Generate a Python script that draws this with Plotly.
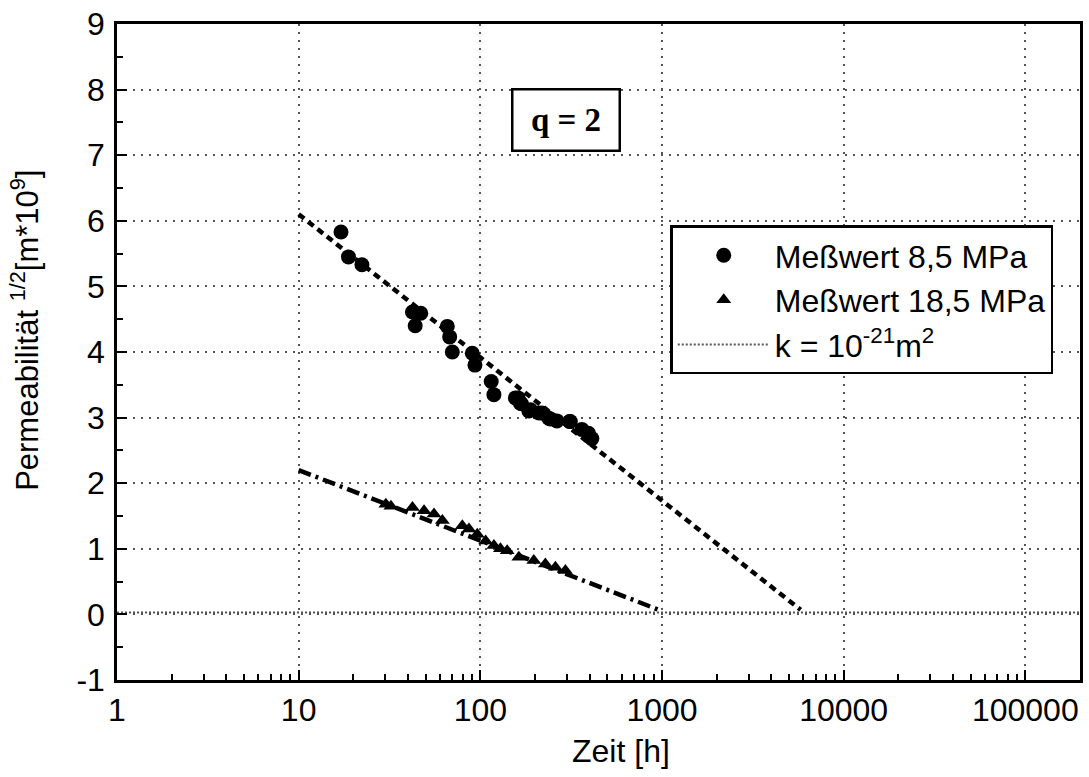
import plotly.graph_objects as go
import numpy as np

# --- data ---
t_85 = [17.1, 18.8, 22.3, 42.3, 47.0, 43.8, 65.8, 67.8, 70.1, 90.3, 93.4, 114.8, 118.8,
        156, 161.4, 166, 168.5, 185, 188.8, 210, 218.6, 238, 243, 264, 310, 313, 362, 394, 411]
p_85 = [5.83, 5.45, 5.33, 4.61, 4.59, 4.40, 4.39, 4.23, 4.00, 3.98, 3.80, 3.55, 3.35,
        3.30, 3.30, 3.22, 3.21, 3.10, 3.12, 3.07, 3.07, 2.99, 2.98, 2.95, 2.94, 2.94, 2.82, 2.76, 2.68]

t_185 = [30.2, 32.2, 42.3, 49.0, 55.6, 61.8, 79.6, 86.6, 96.2, 107, 118.8, 129, 140.5,
         163, 197, 228, 259, 294]
p_185 = [1.68, 1.65, 1.63, 1.58, 1.53, 1.43, 1.35, 1.30, 1.22, 1.12, 1.05, 1.00, 0.97,
         0.87, 0.82, 0.77, 0.72, 0.67]

fit85_t = [10, 5800]
fit85_p = [6.10, 0.07]
fit185_t = [10, 980]
fit185_p = [2.20, 0.06]

k_t = [1, 200000]
k_p = [0.03, 0.03]

x_tickvals = [1, 10, 100, 1000, 10000, 100000]
x_ticktext = ["1", "10", "100", "1000", "10000", "100000"]
y_tickvals = [-1, 0, 1, 2, 3, 4, 5, 6, 7, 8, 9]
y_ticktext = ["-1", "0", "1", "2", "3", "4", "5", "6", "7", "8", "9"]

x_minor = [m * 10 ** d for d in range(0, 6) for m in range(2, 10) if m * 10 ** d <= 200000]
y_minor = [v + 0.5 for v in range(-1, 9)]

legend_names = ["Meßwert 8,5 MPa", "Meßwert 18,5 MPa", "k = 10<sup>-21</sup>m<sup>2</sup>"]

fig = go.Figure()

fig.add_trace(go.Scatter(x=k_t, y=k_p, mode="lines", name=legend_names[2],
                         line=dict(color="#555555", width=2, dash="2px,2px"), showlegend=False))
fig.add_trace(go.Scatter(x=fit85_t, y=fit85_p, mode="lines", showlegend=False,
                         line=dict(color="black", width=4.5, dash="7px,5px")))
fig.add_trace(go.Scatter(x=fit185_t, y=fit185_p, mode="lines", showlegend=False,
                         line=dict(color="black", width=4.5, dash="13px,5px,3px,5px")))
fig.add_trace(go.Scatter(x=t_85, y=p_85, mode="markers", name=legend_names[0],
                         marker=dict(symbol="circle", size=15, color="black")))
fig.add_trace(go.Scatter(x=t_185, y=p_185, mode="markers", name=legend_names[1],
                         marker=dict(symbol="triangle-up", size=13, color="black")))
# legend entry for the k line
fig.add_trace(go.Scatter(x=[None], y=[None], mode="lines", name=legend_names[2],
                         line=dict(color="#555555", width=2, dash="2px,2px")))

font_fam = "Liberation Sans, Arial, sans-serif"

fig.update_layout(
    width=1089, height=777,
    margin=dict(l=117, r=6, t=20, b=97),
    paper_bgcolor="white", plot_bgcolor="white",
    font=dict(family=font_fam, color="black", size=32),
    showlegend=True,
    legend=dict(x=0.5745, y=0.693, xanchor="left", yanchor="top",
                bordercolor="black", borderwidth=2.5, bgcolor="white",
                font=dict(size=32, family=font_fam), itemwidth=92,
                tracegroupgap=0),
)

grid_common = dict(showgrid=True, gridcolor="#555555", gridwidth=1.5, griddash="2px,6px")

fig.update_xaxes(
    type="log", range=[0, np.log10(200000)],
    tickvals=x_tickvals, ticktext=x_ticktext,
    ticks="inside", ticklen=10, tickwidth=1.5, tickcolor="black",
    showline=True, linecolor="black", linewidth=2.5, mirror=True,
    ticklabelstandoff=0,
    tickfont=dict(size=32, family=font_fam),
    minor=dict(tickvals=x_minor, ticks="inside", ticklen=6, tickwidth=1.5,
               tickcolor="black", showgrid=False),
    zeroline=False, **grid_common,
)
fig.update_yaxes(
    range=[-1, 9],
    tickvals=y_tickvals, ticktext=y_ticktext,
    ticks="inside", ticklen=10, tickwidth=1.5, tickcolor="black",
    showline=True, linecolor="black", linewidth=2.5, mirror=True,
    ticklabelstandoff=3,
    tickfont=dict(size=32, family=font_fam),
    minor=dict(tickvals=y_minor, ticks="inside", ticklen=6, tickwidth=1.5,
               tickcolor="black", showgrid=False),
    zeroline=False, **grid_common,
)

fig.add_annotation(xref="paper", yref="paper", x=0.4664, y=0.8538,
                   text="<b>q = 2</b>", showarrow=False,
                   font=dict(family="Liberation Serif, Times New Roman, serif", size=33, color="black"),
                   width=105, height=59, bordercolor="black", borderwidth=2.5, borderpad=0,
                   bgcolor="white", xanchor="center", yanchor="middle")

fig.add_annotation(xref="paper", yref="paper", x=-0.095, y=0.533,
                   text="Permeabilität <sup>1/2</sup>[m*10<sup>9</sup>]", showarrow=False,
                   textangle=-90, font=dict(size=31, family=font_fam),
                   xanchor="center", yanchor="middle")

fig.add_annotation(xref="paper", yref="paper", x=0.5238, y=-0.1076,
                   text="Zeit [h]", showarrow=False,
                   font=dict(size=32, family=font_fam),
                   xanchor="center", yanchor="middle")

fig.write_html("out.html")
